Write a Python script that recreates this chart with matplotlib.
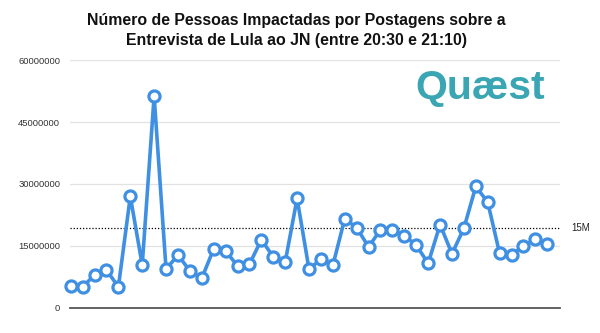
import numpy as np
import matplotlib.pyplot as plt

plt.rcParams['font.family'] = ['Liberation Sans', 'DejaVu Sans']

# pessoas impactadas por postagem
valores = [5.3, 5.1, 8.0, 9.2, 5.1, 27.0, 10.4, 51.3, 9.4, 12.8,
           9.0, 7.2, 14.3, 13.8, 10.2, 10.6, 16.5, 12.4, 11.1, 26.5,
           9.4, 11.8, 10.3, 21.6, 19.4, 14.8, 18.9, 18.8, 17.5, 15.2,
           10.8, 20.2, 13.1, 19.3, 29.4, 25.6, 13.2, 12.9, 15.0, 16.6,
           15.4]
valores = np.array(valores) * 1e6
referencia = 19.4e6
ref_label = "15M"
yticks = [0, 15000000, 30000000, 45000000, 60000000]

azul = '#3f8fe3'

fig = plt.figure(figsize=(6, 3.33), dpi=100)
ax = fig.add_axes([0.1167, 0.0751, 0.8167, 0.7447])

x = np.arange(len(valores))
ax.plot(x, valores, color=azul, lw=2.6, marker='o', ms=8,
        mfc='white', mec=azul, mew=2.3, zorder=3, clip_on=False)
ax.axhline(referencia, color='black', ls=(0, (1, 1.5)), lw=0.9, zorder=2)
ax.text(len(valores) + 1.0, referencia, ref_label, fontsize=7,
        va='center', ha='left', color='#222222', clip_on=False)

ax.set_xlim(-0.06, len(valores) + 0.07)
ax.set_ylim(0, 60e6)
ax.set_yticks(yticks)
ax.set_yticklabels([str(v) for v in yticks], fontsize=6.8, color='#333333')
ax.set_xticks([])
ax.tick_params(axis='y', length=0, pad=7)
for s in ['top', 'right', 'left']:
    ax.spines[s].set_visible(False)
ax.spines['bottom'].set_color('#555555')
ax.spines['bottom'].set_linewidth(1.3)
ax.grid(axis='y', color='#e2e2e2', lw=0.9)
ax.set_axisbelow(True)

fig.text(0.494, 0.962, "Número de Pessoas Impactadas por Postagens sobre a\n"
         "Entrevista de Lula ao JN (entre 20:30 e 21:10)",
         ha='center', va='top', fontsize=11.4, fontweight='bold',
         linespacing=1.45, color='#111111')

fig.text(0.693, 0.735, "Quæst", fontsize=29.5, fontweight='bold',
         color='#3aa6b3', ha='left', va='center')

fig.savefig('out.png', dpi=100)
